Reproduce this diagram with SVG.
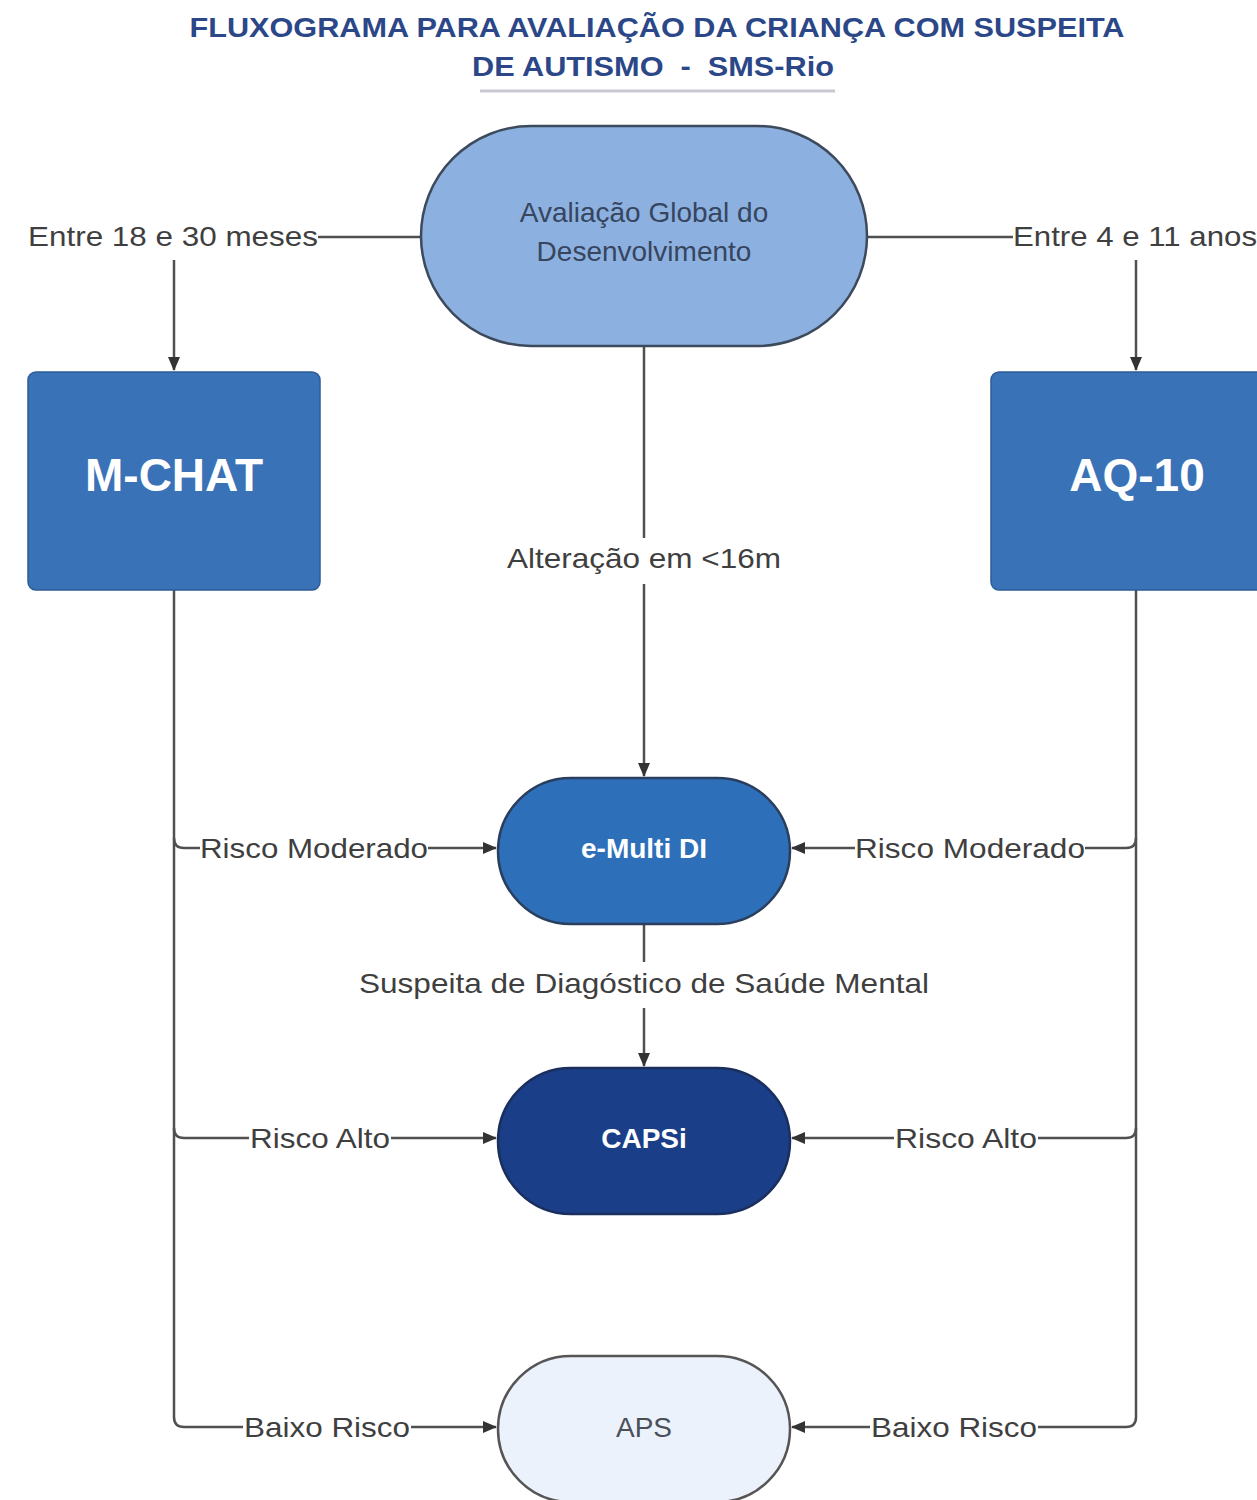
<svg xmlns="http://www.w3.org/2000/svg" width="1257" height="1500" viewBox="0 0 1257 1500">
<defs>
<style>
.title{font-family:"Liberation Sans",Arial,sans-serif;font-weight:bold;font-size:27px;fill:#2b4788;text-anchor:middle}
.lbl{font-family:"Liberation Sans",Arial,sans-serif;font-size:28px;fill:#3f3f3f;text-anchor:middle}
.conn{fill:none;stroke:#505050;stroke-width:2.5}
.bg{fill:#fff}
.big{font-family:"Liberation Sans",Arial,sans-serif;font-weight:bold;font-size:46px;fill:#fff;text-anchor:middle}
.wt{font-family:"Liberation Sans",Arial,sans-serif;font-weight:bold;font-size:28px;fill:#fff;text-anchor:middle}
.dk{font-family:"Liberation Sans",Arial,sans-serif;font-size:28px;fill:#37455e;text-anchor:middle}
</style>
<marker id="arr" markerWidth="14" markerHeight="12" refX="13" refY="6" orient="auto" markerUnits="userSpaceOnUse">
<path d="M0,0 L14,6 L0,12 z" fill="#333"/>
</marker>
</defs>
<rect width="1257" height="1500" fill="#fff"/>
<g id="title">
<text class="title" x="657" y="37" textLength="935" lengthAdjust="spacingAndGlyphs">FLUXOGRAMA PARA AVALIAÇÃO DA CRIANÇA COM SUSPEITA</text>
<text class="title" x="653" y="76" textLength="362" lengthAdjust="spacingAndGlyphs">DE AUTISMO &#160;-&#160; SMS-Rio</text>
<line x1="480" y1="91" x2="835" y2="91" stroke="#c8c8d0" stroke-width="3"/>
</g>
<g id="connectors">
<path class="conn" d="M420,237 H174 V370" marker-end="url(#arr)"/>
<path class="conn" d="M867,237 H1136 V370" marker-end="url(#arr)"/>
<path class="conn" d="M644,346 V776" marker-end="url(#arr)"/>
<path class="conn" d="M644,924 V1066" marker-end="url(#arr)"/>
<path class="conn" d="M174,590 V1417 Q174,1427 184,1427 H496" marker-end="url(#arr)"/>
<path class="conn" d="M174,838 Q174,848 184,848 H496" marker-end="url(#arr)"/>
<path class="conn" d="M174,1128 Q174,1138 184,1138 H496" marker-end="url(#arr)"/>
<path class="conn" d="M1136,590 V1417 Q1136,1427 1126,1427 H792" marker-end="url(#arr)"/>
<path class="conn" d="M1136,838 Q1136,848 1126,848 H792" marker-end="url(#arr)"/>
<path class="conn" d="M1136,1128 Q1136,1138 1126,1138 H792" marker-end="url(#arr)"/>
<rect class="bg" x="26" y="218" width="292" height="42"/>
<text class="lbl" x="173" y="246" textLength="290" lengthAdjust="spacingAndGlyphs">Entre 18 e 30 meses</text>
<rect class="bg" x="1013" y="218" width="244" height="42"/>
<text class="lbl" x="1135" y="246" textLength="244" lengthAdjust="spacingAndGlyphs">Entre 4 e 11 anos</text>
<rect class="bg" x="505" y="538" width="278" height="46"/>
<text class="lbl" x="644" y="568" textLength="274" lengthAdjust="spacingAndGlyphs">Alteração em &lt;16m</text>
<rect class="bg" x="357" y="962" width="574" height="46"/>
<text class="lbl" x="644" y="993" textLength="570" lengthAdjust="spacingAndGlyphs">Suspeita de Diagóstico de Saúde Mental</text>
<rect class="bg" x="200" y="828" width="228" height="42"/>
<text class="lbl" x="314" y="858" textLength="228" lengthAdjust="spacingAndGlyphs">Risco Moderado</text>
<rect class="bg" x="855" y="828" width="230" height="42"/>
<text class="lbl" x="970" y="858" textLength="230" lengthAdjust="spacingAndGlyphs">Risco Moderado</text>
<rect class="bg" x="249" y="1118" width="142" height="42"/>
<text class="lbl" x="320" y="1148" textLength="140" lengthAdjust="spacingAndGlyphs">Risco Alto</text>
<rect class="bg" x="894" y="1118" width="144" height="42"/>
<text class="lbl" x="966" y="1148" textLength="142" lengthAdjust="spacingAndGlyphs">Risco Alto</text>
<rect class="bg" x="243" y="1407" width="168" height="42"/>
<text class="lbl" x="327" y="1437" textLength="166" lengthAdjust="spacingAndGlyphs">Baixo Risco</text>
<rect class="bg" x="870" y="1407" width="168" height="42"/>
<text class="lbl" x="954" y="1437" textLength="166" lengthAdjust="spacingAndGlyphs">Baixo Risco</text>
</g>
<g id="avaliacao">
<rect x="421" y="126" width="446" height="220" rx="110" ry="110" fill="#8cb1e0" stroke="#3d4a5c" stroke-width="2.5"/>
<text class="dk" x="644" y="222">Avaliação Global do</text>
<text class="dk" x="644" y="261">Desenvolvimento</text>
</g>
<g id="mchat">
<rect x="28" y="372" width="292" height="218" rx="8" fill="#3a72b8" stroke="#2d5c96" stroke-width="1.5"/>
<text class="big" x="174" y="491">M-CHAT</text>
</g>
<g id="aq10">
<rect x="991" y="372" width="280" height="218" rx="8" fill="#3a72b8" stroke="#2d5c96" stroke-width="1.5"/>
<text class="big" x="1137" y="491">AQ-10</text>
</g>
<g id="emulti">
<rect x="498" y="778" width="292" height="146" rx="73" ry="73" fill="#2e6fba" stroke="#2a3f5e" stroke-width="2.5"/>
<text class="wt" x="644" y="858">e-Multi DI</text>
</g>
<g id="capsi">
<rect x="498" y="1068" width="292" height="146" rx="73" ry="73" fill="#1a3f88" stroke="#1a2f5e" stroke-width="2.5"/>
<text class="wt" x="644" y="1148">CAPSi</text>
</g>
<g id="aps">
<rect x="498" y="1356" width="292" height="146" rx="73" ry="73" fill="#ebf2fb" stroke="#555" stroke-width="2.5"/>
<text class="dk" x="644" y="1437" style="fill:#4a4f58">APS</text>
</g>
</svg>
